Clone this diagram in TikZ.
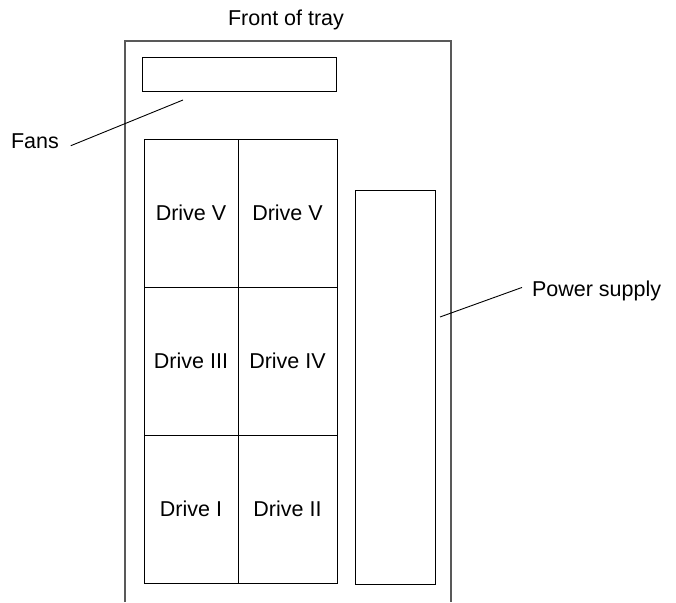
\documentclass[tikz,border=0pt]{standalone}
\usepackage{fontspec}
\setmainfont{Liberation Sans}

\tikzset{
  traywall/.style={
    draw=black!65, line width=1.3pt
  },
  fanbox/.style={
    draw=black, line width=1pt,
    minimum width=194pt, minimum height=34pt,
    inner sep=0pt
  },
  drivecell/.style={
    draw=black, line width=1pt,
    minimum height=148pt,
    align=center, inner sep=0pt,
    font=\fontsize{21.5}{25}\selectfont
  },
  psubox/.style={
    draw=black, line width=1pt,
    minimum width=80pt, minimum height=394pt,
    inner sep=0pt
  },
  calllabel/.style={
    inner sep=0pt,
    font=\fontsize{21.5}{25}\selectfont
  },
  leader/.style={
    draw=black, line width=0.9pt
  },
}

\begin{document}
\begin{tikzpicture}[x=1pt, y=-1pt, every node/.style={outer sep=0pt}]

\useasboundingbox (0,0) rectangle (676,602);

%% Tray walls -- back side left open
\draw[traywall] (125,602) -- (125,41) -- (451,41) -- (451,602);

\node[calllabel, anchor=base] (front) at (286,26) {Front of tray};

%% Fans
\node[fanbox, anchor=north west] (fans) at (142,57) {};

%% Drive bays, 3 rows of 2
\node[drivecell, minimum width=94pt, anchor=north west] (drvVa) at (144,139) {Drive V};
\node[drivecell, minimum width=99pt, anchor=north west] (drvVb) at (238,139) {Drive V};

\node[drivecell, minimum width=94pt, anchor=north west] (drvIII) at (144,287) {Drive III};
\node[drivecell, minimum width=99pt, anchor=north west] (drvIV) at (238,287) {Drive IV};

\node[drivecell, minimum width=94pt, anchor=north west] (drvI) at (144,435) {Drive I};
\node[drivecell, minimum width=99pt, anchor=north west] (drvII) at (238,435) {Drive II};

%% Power supply
\node[psubox, anchor=north west] (psu) at (355,190) {};

%% Callouts
\node[calllabel, anchor=base west] (fanslbl) at (11,148) {Fans};
\node[calllabel, anchor=base west] (psulbl) at (532,296) {Power supply};

\coordinate (fanstip) at (183,100);
\coordinate (psutip) at (440,317);

\draw[leader] ([xshift=12pt, yshift=-5pt]fanslbl.east) -- (fanstip);
\draw[leader] ([xshift=-10pt, yshift=3pt]psulbl.west) -- (psutip);

\end{tikzpicture}
\end{document}
